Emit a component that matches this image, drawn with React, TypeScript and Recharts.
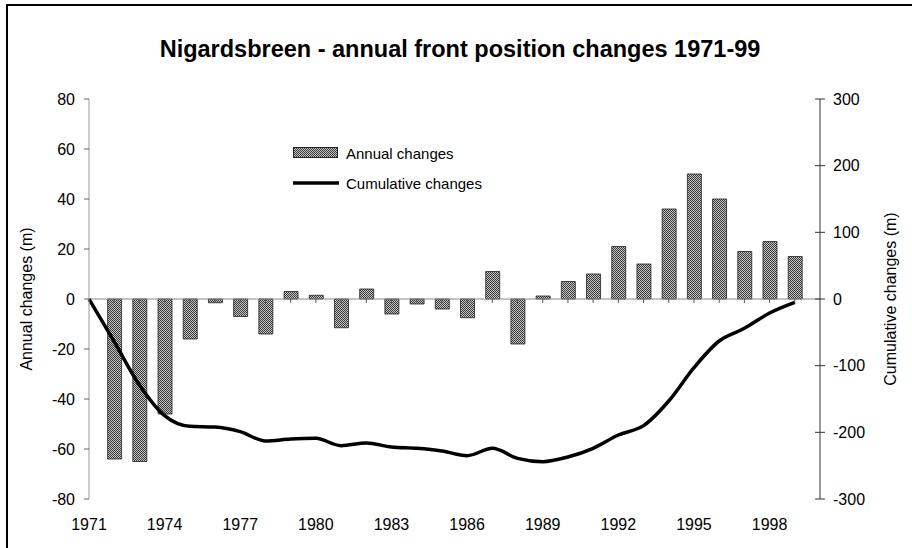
import {
  Bar,
  ComposedChart,
  Line,
  ReferenceLine,
  Scatter,
  XAxis,
  YAxis,
} from 'recharts';

// Annual front position change (m), 1972-1999
const YEARS = [
  1972, 1973, 1974, 1975, 1976, 1977, 1978, 1979, 1980, 1981, 1982, 1983, 1984, 1985,
  1986, 1987, 1988, 1989, 1990, 1991, 1992, 1993, 1994, 1995, 1996, 1997, 1998, 1999,
];
const ANNUAL = [
  -64, -65, -46, -16, -1.5, -7, -14, 3, 1.5, -11.5, 4, -6, -2, -4,
  -7.5, 11, -18, 1.2, 7, 10, 21, 14, 36, 50, 40, 19, 23, 17,
];
// Cumulative change (m), 1971-1999
const CUM_YEARS = [1971, ...YEARS];
const CUMULATIVE = [
  0, -64, -129, -175, -191, -192, -199, -213, -210, -209, -220, -216, -222, -224, -228,
  -235, -224, -239, -244, -237, -224, -204, -190, -153, -103, -63, -44, -21, -5,
];

const X_TICKS = [1971, 1974, 1977, 1980, 1983, 1986, 1989, 1992, 1995, 1998];
const LEFT_TICKS = [-80, -60, -40, -20, 0, 20, 40, 60, 80];
const RIGHT_TICKS = [-300, -200, -100, 0, 100, 200, 300];

const FONT = '"Liberation Sans", Arial, sans-serif';

const data = CUM_YEARS.map((year, i) => ({
  year,
  annual: i === 0 ? null : ANNUAL[i - 1],
  cumulative: CUMULATIVE[i],
  zero: i === 0 ? null : 0,
}));

function Stipple({ id }: { id: string }) {
  return (
    <pattern id={id} width={2} height={2} patternUnits="userSpaceOnUse">
      <rect width={2} height={2} fill="#c4c4c4" />
      <rect width={1} height={1} fill="#3a3a3a" />
      <rect x={1} y={1} width={1} height={1} fill="#3a3a3a" />
    </pattern>
  );
}

function YearTick({ cx, cy }: { cx?: number; cy?: number }) {
  if (cx == null || cy == null) return null;
  return <line x1={cx} x2={cx} y1={cy} y2={cy + 4} stroke="#555" strokeWidth={1} />;
}

// right axis ticks in the source cross the axis line
function RightTick({ x, y, payload }: { x?: number; y?: number; payload?: { value: number } }) {
  if (x == null || y == null || !payload) return null;
  return (
    <g>
      <line x1={x - 18} x2={x - 8} y1={y} y2={y} stroke="#333" strokeWidth={1} />
      <text x={x} y={y} dy="0.36em" textAnchor="start" fill="#000" fontSize={16} fontFamily={FONT}>
        {payload.value}
      </text>
    </g>
  );
}

function LegendBox() {
  return (
    <div
      style={{
        position: 'absolute',
        left: 293,
        top: 143,
        fontFamily: FONT,
        fontSize: 15,
        color: '#000',
      }}
    >
      <div style={{ display: 'flex', alignItems: 'center', height: 20 }}>
        <svg width={46} height={12} style={{ marginRight: 7 }}>
          <defs>
            <Stipple id="stippleLegend" />
          </defs>
          <rect x={0.5} y={0.5} width={44} height={10} fill="url(#stippleLegend)" stroke="#222" />
        </svg>
        <span>Annual changes</span>
      </div>
      <div style={{ display: 'flex', alignItems: 'center', height: 20, marginTop: 10 }}>
        <svg width={46} height={12} style={{ marginRight: 7 }}>
          <line x1={0} x2={46} y1={6} y2={6} stroke="#000" strokeWidth={3.5} />
        </svg>
        <span>Cumulative changes</span>
      </div>
    </div>
  );
}

export default function App() {
  return (
    <div style={{ position: 'absolute', left: 0, top: 0, width: 912, height: 548, background: '#fff', overflow: 'hidden' }}>
      <div
        style={{
          position: 'absolute',
          left: 6,
          top: 4,
          width: 920,
          height: 560,
          borderTop: '2px solid #000',
          borderLeft: '2px solid #000',
        }}
      />
      <div
        style={{
          position: 'absolute',
          left: 0,
          top: 36,
          width: 912,
          textAlign: 'center',
          fontFamily: FONT,
          fontWeight: 'bold',
          fontSize: 23.5,
          paddingLeft: 4,
        }}
      >
        Nigardsbreen - annual front position changes 1971-99
      </div>
      <ComposedChart
        width={912}
        height={548}
        data={data}
        margin={{ top: 99, right: 0, bottom: 19, left: 0 }}
        style={{ position: 'absolute', left: 0, top: 0 }}
      >
        <defs>
          <Stipple id="stipple" />
        </defs>
        <XAxis
          dataKey="year"
          type="number"
          domain={[1971, 2000]}
          ticks={X_TICKS}
          axisLine={false}
          tickLine={false}
          tickSize={6}
          tickMargin={14}
          height={30}
          tick={{ fill: '#000', fontSize: 16, fontFamily: FONT }}
        />
        <YAxis
          yAxisId="left"
          orientation="left"
          width={89}
          domain={[-80, 80]}
          ticks={LEFT_TICKS}
          interval={0}
          tickSize={5}
          tickMargin={9}
          axisLine={{ stroke: '#999' }}
          tickLine={{ stroke: '#666' }}
          tick={{ fill: '#000', fontSize: 16, fontFamily: FONT }}
          label={{
            value: 'Annual changes (m)',
            angle: -90,
            position: 'insideLeft',
            offset: 26,
            style: { fill: '#000', fontSize: 16, fontFamily: FONT, textAnchor: 'middle' },
          }}
        />
        <YAxis
          yAxisId="right"
          orientation="right"
          width={92}
          domain={[-300, 300]}
          ticks={RIGHT_TICKS}
          interval={0}
          tickSize={5}
          tickMargin={8}
          axisLine={{ stroke: '#333' }}
          tickLine={false}
          tick={<RightTick />}
          label={{
            value: 'Cumulative changes (m)',
            angle: -90,
            position: 'insideRight',
            offset: 22,
            style: { fill: '#000', fontSize: 16, fontFamily: FONT, textAnchor: 'middle' },
          }}
        />
        <ReferenceLine yAxisId="left" y={0} stroke="#888" strokeWidth={1} />
        <Bar
          yAxisId="left"
          dataKey="annual"
          barSize={14}
          fill="url(#stipple)"
          stroke="#222"
          strokeWidth={0.8}
          isAnimationActive={false}
        />
        <Scatter
          yAxisId="left"
          dataKey="zero"
          shape={<YearTick />}
          isAnimationActive={false}
          legendType="none"
        />
        <Line
          yAxisId="right"
          dataKey="cumulative"
          type="monotone"
          stroke="#000"
          strokeWidth={3.5}
          dot={false}
          activeDot={false}
          isAnimationActive={false}
        />
      </ComposedChart>
      <LegendBox />
    </div>
  );
}
